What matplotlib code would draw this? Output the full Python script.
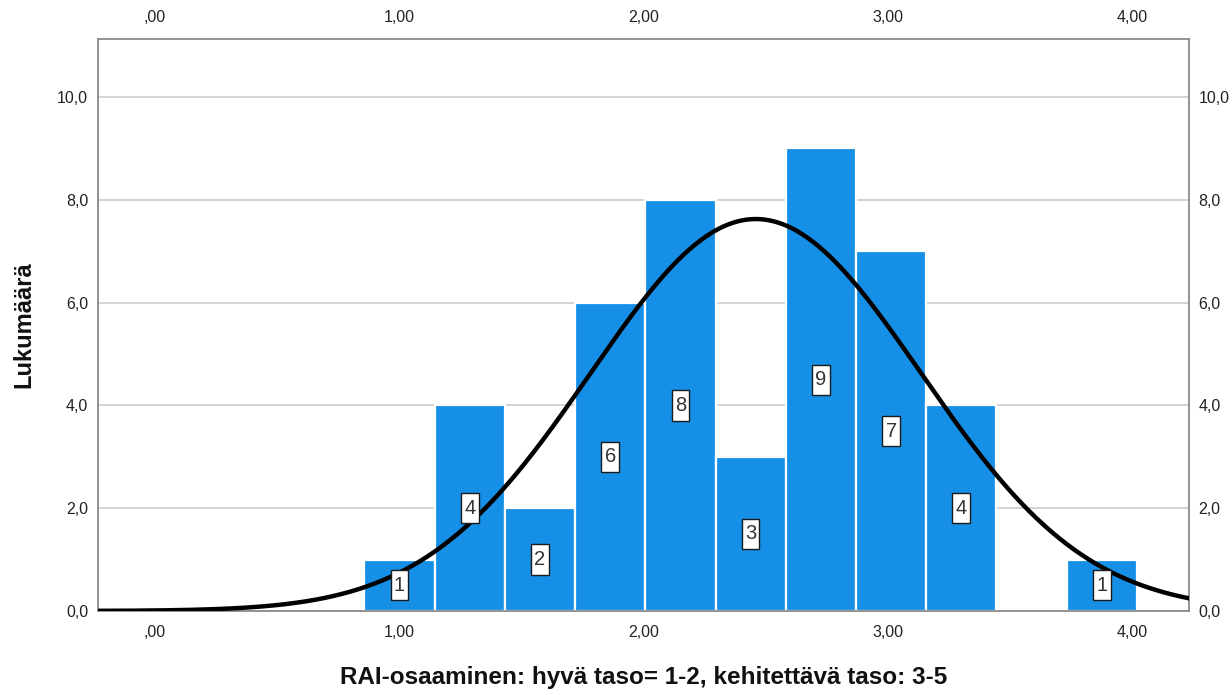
import numpy as np
import matplotlib.pyplot as plt
from matplotlib.path import Path
from matplotlib.ticker import FixedLocator, FuncFormatter

plt.rcParams['font.family'] = ['Liberation Sans', 'DejaVu Sans']

# Histogram bins (left edge of first bin, common width) and counts
bin_start = 0.857
bin_width = 0.2876
counts = [1, 4, 2, 6, 8, 3, 9, 7, 4, 0, 1]

# Fitted normal curve parameters
curve_mean = 2.46
curve_sd = 0.677

x_ticks = [0.0, 1.0, 2.0, 3.0, 4.0]
y_ticks = [0.0, 2.0, 4.0, 6.0, 8.0, 10.0]

x_label = "RAI-osaaminen: hyvä taso= 1-2, kehitettävä taso: 3-5"
y_label = "Lukumäärä"

bar_color = "#1590e6"


def tall_box(x0, y0, width, height, mutation_size):
    """Rectangular label box with more padding above/below than at the sides."""
    px = 0.16 * mutation_size
    py = 0.28 * mutation_size
    x0, y0 = x0 - px, y0 - py
    x1, y1 = x0 + width + 2 * px, y0 + height + 2 * py
    return Path([(x0, y0), (x1, y0), (x1, y1), (x0, y1), (x0, y0)],
                closed=True)


fig = plt.figure(figsize=(12.32, 6.95), dpi=100)
ax = fig.add_axes([0.0795, 0.1209, 0.8856, 0.8230])

lefts = bin_start + bin_width * np.arange(len(counts))
ax.bar(lefts, counts, width=bin_width, align='edge', color=bar_color,
       edgecolor='white', linewidth=1.6, zorder=2)

# Normal curve scaled to the histogram
n_total = sum(counts)
xs = np.linspace(-0.3, 4.3, 600)
ys = n_total * bin_width / (curve_sd * np.sqrt(2 * np.pi)) * np.exp(-0.5 * ((xs - curve_mean) / curve_sd) ** 2)
ax.plot(xs, ys, color='black', linewidth=3.2, zorder=3, solid_capstyle='butt')

# Count labels at mid-height of each bar
for left, c in zip(lefts, counts):
    if c > 0:
        ax.text(left + bin_width / 2, c / 2, str(c), ha='center', va='center',
                fontsize=14.5, color='#333333', zorder=4,
                family=['Liberation Sans Narrow', 'Liberation Sans', 'DejaVu Sans'],
                bbox=dict(boxstyle=tall_box, facecolor='white',
                          edgecolor='#1a1a1a', linewidth=1.0))

ax.set_xlim(-0.234, 4.234)
ax.set_ylim(0, 11.13)

ax.yaxis.set_major_locator(FixedLocator(y_ticks))
ax.xaxis.set_major_locator(FixedLocator(x_ticks))


def fmt_x(v, pos):
    s = f"{v:.2f}".replace('.', ',')
    return s[1:] if s.startswith('0') else s


def fmt_y(v, pos):
    return f"{v:.1f}".replace('.', ',')


ax.xaxis.set_major_formatter(FuncFormatter(fmt_x))
ax.yaxis.set_major_formatter(FuncFormatter(fmt_y))

ax.tick_params(axis='both', which='both', length=0, labelsize=11.5, colors='#222222',
               top=True, right=True, labeltop=True, labelright=True)
ax.tick_params(axis='x', pad=10)
ax.tick_params(axis='y', pad=7)

ax.grid(axis='y', color='#d0d0d0', linewidth=1.3, zorder=0)
ax.set_axisbelow(True)

for side in ['left', 'right', 'top', 'bottom']:
    ax.spines[side].set_color('#8a8a8a')
    ax.spines[side].set_linewidth(1.3)

ax.set_xlabel(x_label, fontsize=17.5, fontweight='bold', color='#111111', labelpad=19)
ax.set_ylabel(y_label, fontsize=17, fontweight='bold', color='#111111', labelpad=16)

fig.savefig('out.png', dpi=100)
